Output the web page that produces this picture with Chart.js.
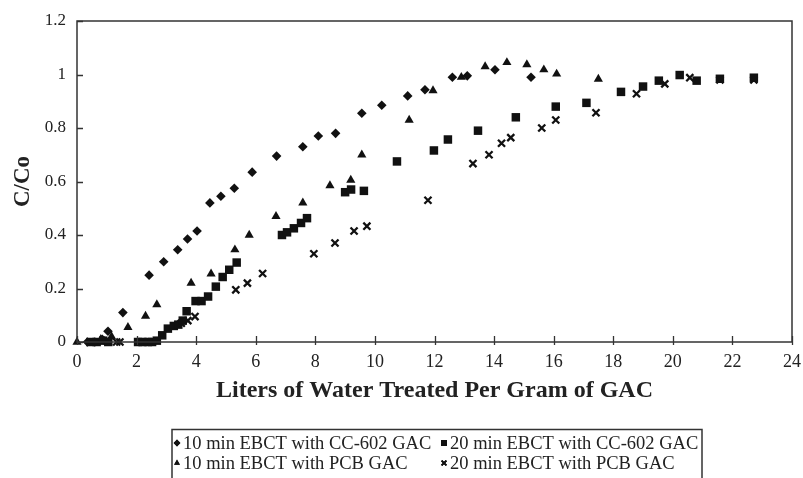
<!DOCTYPE html>
<html>
<head>
<meta charset="utf-8">
<script src="https://cdn.jsdelivr.net/npm/chart.js@4/dist/chart.umd.min.js"></script>
<style>
  html, body { margin: 0; padding: 0; background: #fff; }
  #wrap { position: relative; width: 803px; height: 478px; }
</style>
</head>
<body>
<div id="wrap"><canvas id="c" width="803" height="478"></canvas></div>
<script>
// ---- Data ----
const seriesLabels = [
  '10 min EBCT with CC-602 GAC',
  '20 min EBCT with CC-602 GAC',
  '10 min EBCT with PCB GAC',
  '20 min EBCT with PCB GAC'
];
// [liters per gram, C/Co]
const cc602_10min = [
  [0.35,0],[0.6,0],[0.85,0.01],[1.04,0.04],[1.54,0.11],[2.42,0.25],[2.91,0.3],[3.38,0.345],
  [3.71,0.385],[4.03,0.415],[4.46,0.52],[4.83,0.545],[5.28,0.575],[5.88,0.635],[6.7,0.695],
  [7.58,0.73],[8.1,0.77],[8.68,0.78],[9.56,0.855],[10.23,0.885],[11.1,0.92],[11.68,0.943],
  [12.6,0.99],[13.1,0.995],[14.03,1.018],[15.24,0.99]
];
const cc602_20min = [
  [0.45,0],[0.66,0],[0.88,0.005],[1.05,0],[2.05,0],[2.2,0],[2.38,0],[2.52,0],[2.68,0.005],
  [2.86,0.025],[3.05,0.05],[3.25,0.06],[3.4,0.065],[3.55,0.08],[3.68,0.115],[3.98,0.153],
  [4.18,0.153],[4.4,0.17],[4.66,0.207],[4.89,0.243],[5.11,0.27],[5.36,0.297],
  [6.88,0.4],[7.05,0.41],[7.28,0.425],[7.52,0.445],[7.72,0.463],[9.0,0.56],[9.2,0.57],[9.63,0.565],
  [10.74,0.675],[11.98,0.716],[12.45,0.757],[13.46,0.79],[14.73,0.84],[16.07,0.88],
  [17.1,0.894],[18.26,0.935],[19.0,0.955],[19.53,0.977],[20.23,0.998],[20.8,0.977],
  [21.58,0.984],[22.72,0.988]
];
const pcb_10min = [
  [0,0],[0.8,0.01],[1.16,0.02],[1.71,0.055],[2.3,0.097],[2.68,0.14],[3.83,0.22],[4.5,0.255],
  [5.3,0.345],[5.78,0.4],[6.68,0.47],[7.58,0.52],[8.49,0.585],[9.19,0.605],[9.56,0.7],
  [11.15,0.83],[11.95,0.94],[12.9,0.99],[13.7,1.03],[14.43,1.045],[15.1,1.037],
  [15.67,1.018],[16.1,1.002],[17.5,0.983]
];
const pcb_20min = [
  [1.0,0.005],[1.33,0],[1.44,0],[2.2,0],[3.5,0.07],[3.72,0.08],[3.96,0.095],[5.33,0.195],
  [5.72,0.22],[6.23,0.256],[7.95,0.33],[8.66,0.37],[9.3,0.415],[9.73,0.433],[11.78,0.53],
  [13.29,0.667],[13.83,0.7],[14.25,0.743],[14.56,0.764],[15.6,0.8],[16.07,0.83],
  [17.42,0.857],[18.78,0.928],[19.73,0.965],[20.57,0.988],[21.58,0.98],[22.72,0.98]
];
const xTickLabels = ['0','2','4','6','8','10','12','14','16','18','20','22','24'];
const yTickLabels = ['0','0.2','0.4','0.6','0.8','1','1.2'];
const xTitle = 'Liters of Water Treated Per Gram of GAC';
const yTitle = 'C/Co';

// ---- Build chart ----
const INK = '#111';
const TXT = '#222';
const SERIF = "'Liberation Serif', 'Times New Roman', serif";
const toPts = arr => arr.map(p => ({ x: p[0], y: p[1] }));

const styles = [
  { pointStyle: 'rectRot', radius: 4.8, borderWidth: 0 },
  { pointStyle: 'rect', radius: 6, borderWidth: 0 },
  { pointStyle: 'triangle', radius: 5.3, borderWidth: 0 },
  { pointStyle: 'crossRot', radius: 5, borderWidth: 2.3 }
];
const seriesData = [cc602_10min, cc602_20min, pcb_10min, pcb_20min];

const datasets = seriesData.map((d, i) => ({
  label: seriesLabels[i],
  data: toPts(d),
  showLine: false,
  pointStyle: styles[i].pointStyle,
  pointRadius: styles[i].radius,
  pointHoverRadius: styles[i].radius,
  pointBorderWidth: styles[i].borderWidth,
  backgroundColor: INK,
  borderColor: INK,
  clip: false
}));

const framePlugin = {
  id: 'frame',
  afterDraw(chart) {
    const { ctx, chartArea: a, scales } = chart;
    ctx.save();
    ctx.strokeStyle = '#333';
    ctx.lineWidth = 1.5;
    ctx.strokeRect(a.left, a.top, a.right - a.left, a.bottom - a.top);
    ctx.lineWidth = 1.3;
    ctx.beginPath();
    scales.x.ticks.forEach(t => {
      const px = Math.round(scales.x.getPixelForValue(t.value)) + 0.5;
      ctx.moveTo(px, a.bottom + 3);
      ctx.lineTo(px, a.bottom - 6);
    });
    scales.y.ticks.forEach(t => {
      const py = Math.round(scales.y.getPixelForValue(t.value)) + 0.5;
      ctx.moveTo(a.left, py);
      ctx.lineTo(a.left + 6, py);
    });
    ctx.stroke();
    ctx.restore();
  }
};

function drawMarker(ctx, style, x, y, r) {
  ctx.save();
  ctx.fillStyle = INK; ctx.strokeStyle = INK;
  if (Chart.helpers && Chart.helpers.drawPoint) {
    Chart.helpers.drawPoint(ctx, { pointStyle: style.pointStyle, radius: r, borderWidth: style.borderWidth, rotation: 0 }, x, y);
    ctx.fill();
    if (style.borderWidth) { ctx.lineWidth = style.borderWidth * 0.8; ctx.stroke(); }
  }
  ctx.restore();
}

const legendPlugin = {
  id: 'boxLegend',
  afterDraw(chart) {
    const ctx = chart.ctx;
    ctx.save();
    ctx.strokeStyle = '#333';
    ctx.lineWidth = 1.5;
    ctx.strokeRect(172, 429.5, 530, 60);
    ctx.font = '18.5px ' + SERIF;
    ctx.fillStyle = TXT;
    ctx.textBaseline = 'middle';
    ctx.textAlign = 'left';
    const cols = [177, 444];
    const rows = [443, 463];
    chart.data.datasets.forEach((ds, i) => {
      const cx = cols[i % 2], cy = rows[Math.floor(i / 2)];
      const st = styles[i];
      drawMarker(ctx, st, cx, cy, st.pointStyle === 'rect' ? 4.2 : 3.4);
      ctx.fillStyle = TXT;
      ctx.fillText(ds.label, cx + 6, cy + 1);
    });
    ctx.restore();
  }
};

new Chart(document.getElementById('c'), {
  type: 'scatter',
  data: { datasets },
  options: {
    responsive: false,
    animation: false,
    layout: { padding: { left: 9, top: 21, right: 11, bottom: 73 } },
    plugins: { legend: { display: false }, tooltip: { enabled: false } },
    scales: {
      x: {
        type: 'linear', min: 0, max: 24,
        ticks: { stepSize: 2, padding: 9, color: TXT, font: { family: SERIF, size: 18 },
                 callback: (v, i) => xTickLabels[i], maxRotation: 0, autoSkip: false },
        grid: { display: false, drawTicks: false },
        border: { display: false },
        title: { display: true, text: xTitle, color: TXT, padding: { top: 0, bottom: 0 },
                 font: { family: SERIF, size: 24, weight: 'bold' } },
        afterFit: s => { s.height = 63; s.paddingLeft = 0; s.paddingRight = 0; }
      },
      y: {
        type: 'linear', min: 0, max: 1.2,
        ticks: { stepSize: 0.2, padding: 11, color: TXT, font: { family: SERIF, size: 17 },
                 callback: (v, i) => yTickLabels[i] },
        grid: { display: false, drawTicks: false },
        border: { display: false },
        title: { display: true, text: yTitle, color: TXT, padding: { top: 0, bottom: 0 },
                 font: { family: SERIF, size: 23, weight: 'bold' } },
        afterFit: s => { s.width = 68; s.paddingTop = 0; s.paddingBottom = 0; }
      }
    }
  },
  plugins: [framePlugin, legendPlugin]
});
</script>
</body>
</html>
